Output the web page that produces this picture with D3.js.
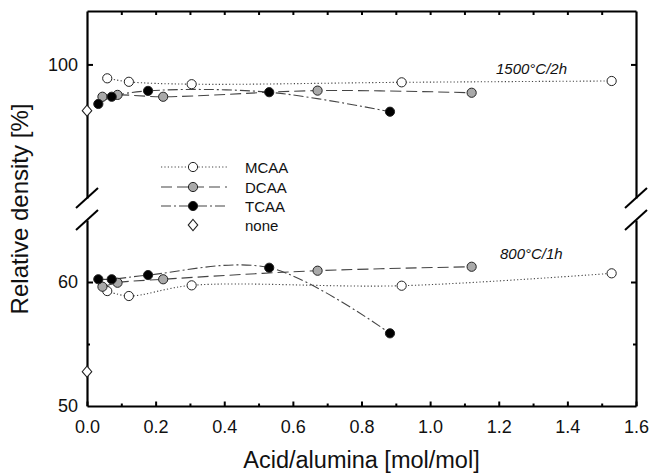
<!DOCTYPE html>
<html>
<head>
<meta charset="utf-8">
<script src="https://cdn.jsdelivr.net/npm/d3@7"></script>
<style>
  body { margin: 0; background: #fff; }
  text { font-family: "Liberation Sans", Arial, sans-serif; }
</style>
</head>
<body>
<div id="chart"></div>
<script>
// acid/alumina ratio of each sample
const xMCAA = [0.059, 0.122, 0.305, 0.917, 1.529];
const xDCAA = [0.045, 0.089, 0.222, 0.672, 1.121];
const xTCAA = [0.033, 0.072, 0.178, 0.531, 0.883];
// relative density after 1500°C/2h
const hiMCAA = [99.48, 99.35, 99.26, 99.33, 99.38];
const hiDCAA = [98.79, 98.86, 98.79, 99.02, 98.94];
const hiTCAA = [98.52, 98.79, 99.01, 98.96, 98.23];
// relative density after 800°C/1h
const loMCAA = [59.27, 58.87, 59.73, 59.70, 60.70];
const loDCAA = [59.62, 59.94, 60.22, 60.91, 61.23];
const loTCAA = [60.22, 60.22, 60.56, 61.15, 55.86];
// no acid
const noneHi = 98.27, noneLo = 52.77;

const xTicks = [0, 0.1, 0.2, 0.3, 0.4, 0.5, 0.6, 0.7, 0.8, 0.9, 1.0, 1.1, 1.2, 1.3, 1.4, 1.5, 1.6];
const yTopTicks = [100];
const yBotTicks = [50, 55, 60];

var width = 650, height = 475;
var left = 87, right = 636;

const svg = d3.select("#chart").append("svg")
  .attr("width", width).attr("height", height);

const x = d3.scaleLinear().domain([0, 1.6]).range([left, right]);
const yTop = d3.scaleLinear().domain([95, 102]).range([198, 11]);
const yBot = d3.scaleLinear().domain([50, 65]).range([406, 220]);

const isMajor = d => Math.abs(d * 5 - Math.round(d * 5)) < 1e-6;

// bottom axis
const xb = svg.append("g").attr("transform", `translate(0, ${yBot.range()[0]})`)
  .call(d3.axisBottom(x).tickValues(xTicks).tickSize(-4).tickSizeOuter(0).tickPadding(14)
    .tickFormat(d => isMajor(d) ? d3.format(".1f")(d) : ""));
xb.selectAll(".tick line").attr("y2", d => isMajor(d) ? -4.5 : -2.5);

// top axis
svg.append("g").attr("transform", `translate(0, ${yTop.range()[1]})`)
  .call(d3.axisTop(x).tickValues(xTicks.slice(1, -1)).tickSize(-4).tickSizeOuter(0).tickFormat(""));

// left axis, two parts
svg.append("g").attr("transform", `translate(${left}, 0)`)
  .call(d3.axisLeft(yTop).tickValues(yTopTicks).tickSize(-6).tickSizeOuter(0).tickPadding(9)
    .tickFormat(d3.format("d")));
const yl = svg.append("g").attr("transform", `translate(${left}, 0)`)
  .call(d3.axisLeft(yBot).tickValues(yBotTicks).tickSize(-6).tickSizeOuter(0).tickPadding(9)
    .tickFormat(d => d === 55 ? "" : d3.format("d")(d)));
yl.selectAll(".tick line").attr("x2", d => d === 55 ? 3 : (d === 50 ? 0 : 6));

// right axis, two parts
svg.append("g").attr("transform", `translate(${right}, 0)`)
  .call(d3.axisRight(yTop).tickValues(yTopTicks).tickSize(-5).tickSizeOuter(0).tickFormat(""));
const yr = svg.append("g").attr("transform", `translate(${right}, 0)`)
  .call(d3.axisRight(yBot).tickValues([55, 60]).tickSize(-5).tickSizeOuter(0).tickFormat(""));
yr.selectAll(".tick line").attr("x2", d => d === 55 ? -3 : -5);

svg.selectAll(".domain").attr("stroke", "#000").attr("stroke-width", 2.2);
svg.selectAll(".tick line").attr("stroke", "#000").attr("stroke-width", 2);
svg.selectAll(".tick text").attr("font-size", 18).attr("fill", "#111")
  .style("font-family", "'Liberation Sans', Arial, sans-serif");

// axis break marks
[left, right].forEach(function (ax) {
  [yTop.range()[0], yBot.range()[1]].forEach(function (yy) {
    svg.append("line")
      .attr("x1", ax - 11).attr("y1", yy + 10)
      .attr("x2", ax + 11).attr("y2", yy - 10)
      .attr("stroke", "#000").attr("stroke-width", 2);
  });
});

// axis titles
svg.append("text")
  .attr("x", (left + right) / 2).attr("y", 468)
  .attr("text-anchor", "middle").attr("font-size", 23.5).attr("fill", "#111")
  .text("Acid/alumina [mol/mol]");
svg.append("text")
  .attr("transform", `translate(28, 209) rotate(-90)`)
  .attr("text-anchor", "middle").attr("font-size", 24).attr("fill", "#111")
  .text("Relative density [%]");

// condition labels
svg.append("text").attr("x", 496).attr("y", 74)
  .attr("font-size", 15).attr("font-style", "italic").attr("fill", "#111").text("1500°C/2h");
svg.append("text").attr("x", 500).attr("y", 259)
  .attr("font-size", 15).attr("font-style", "italic").attr("fill", "#111").text("800°C/1h");

const series = [
  {name: "MCAA", xs: xMCAA, hi: hiMCAA, lo: loMCAA, fill: "#fff", dash: "1.2,2.2"},
  {name: "DCAA", xs: xDCAA, hi: hiDCAA, lo: loDCAA, fill: "#a9a9a9", dash: "11,5"},
  {name: "TCAA", xs: xTCAA, hi: hiTCAA, lo: loTCAA, fill: "#000", dash: "10,3,2,3"}
];

// curves
series.forEach(function (s) {
  [[s.hi, yTop], [s.lo, yBot]].forEach(function (p) {
    const pts = s.xs.map((v, i) => [v, p[0][i]]);
    const line = d3.line().curve(d3.curveCatmullRom.alpha(0.5))
      .x(d => x(d[0])).y(d => p[1](d[1]));
    svg.append("path").datum(pts)
      .attr("d", line)
      .attr("fill", "none")
      .attr("stroke", "#444")
      .attr("stroke-width", 1.1)
      .attr("stroke-dasharray", s.dash);
  });
});

// markers
series.forEach(function (s) {
  [[s.hi, yTop], [s.lo, yBot]].forEach(function (p) {
    svg.append("g").selectAll("circle")
      .data(s.xs.map((v, i) => [v, p[0][i]]))
      .join("circle")
      .attr("cx", d => x(d[0]))
      .attr("cy", d => p[1](d[1]))
      .attr("r", 4.6)
      .attr("fill", s.fill)
      .attr("stroke", "#222")
      .attr("stroke-width", 1);
  });
});

const diamond = d3.symbol().type(d3.symbolDiamond).size(50);
[[noneHi, yTop], [noneLo, yBot]].forEach(function (p) {
  svg.append("path")
    .attr("d", diamond)
    .attr("transform", `translate(${x(0)}, ${p[1](p[0])}) scale(1.25, 0.85)`)
    .attr("fill", "#fff").attr("stroke", "#222").attr("stroke-width", 1);
});

// legend
const legY = [167, 187, 206, 225];
series.forEach(function (s, i) {
  svg.append("line")
    .attr("x1", 161).attr("x2", 227).attr("y1", legY[i]).attr("y2", legY[i])
    .attr("stroke", "#444").attr("stroke-width", 1.1).attr("stroke-dasharray", s.dash);
  svg.append("circle").attr("cx", 193).attr("cy", legY[i]).attr("r", 4.6)
    .attr("fill", s.fill).attr("stroke", "#222");
  svg.append("text").attr("x", 245).attr("y", legY[i] + 5.5)
    .attr("font-size", 15).attr("fill", "#111").text(s.name);
});
svg.append("path").attr("d", diamond)
  .attr("transform", `translate(193, ${legY[3]}) scale(1.25, 0.85)`)
  .attr("fill", "#fff").attr("stroke", "#222");
svg.append("text").attr("x", 245).attr("y", legY[3] + 5.5)
  .attr("font-size", 15).attr("fill", "#111").text("none");
</script>
</body>
</html>
